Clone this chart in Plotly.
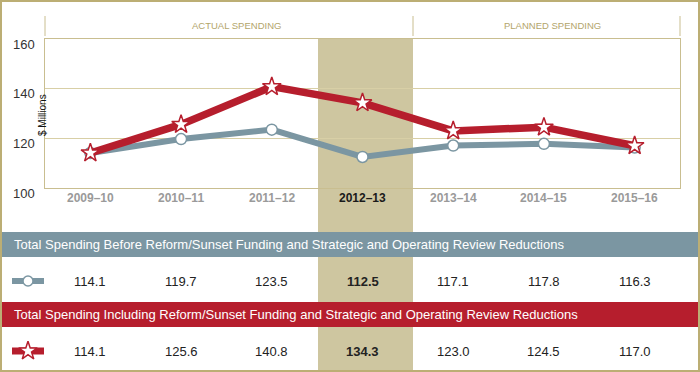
import plotly.graph_objects as go

W, H = 700, 372

categories = ["2009–10", "2010–11", "2011–12", "2012–13", "2013–14", "2014–15", "2015–16"]
before_values = [114.1, 119.7, 123.5, 112.5, 117.1, 117.8, 116.3]
including_values = [114.1, 125.6, 140.8, 134.3, 123.0, 124.5, 117.0]
y_ticks = [100, 120, 140, 160]
highlight_category = "2012–13"
section_labels = ["ACTUAL SPENDING", "PLANNED SPENDING"]
row_titles = [
    "Total Spending Before Reform/Sunset Funding and Strategic and Operating Review Reductions",
    "Total Spending Including Reform/Sunset Funding and Strategic and Operating Review Reductions",
]
y_title = "$ Millions"

BLUE = "#7b96a2"
RED = "#b61e2d"
KHAKI = "#bcae74"
KHAKI_LINE = "#c9be90"
GRID = "#d8cfa6"
SHADE = "#cec6a0"
FONT = "Liberation Sans, Arial, sans-serif"
NARROW = "Liberation Sans Narrow, Liberation Sans, Arial, sans-serif"


def px(x):
    return x / W


def py(y):
    return 1 - y / H


PLOT_L, PLOT_R, PLOT_T, PLOT_B = 45, 680, 39, 188

fig = go.Figure()

# main series
fig.add_trace(go.Scatter(
    x=categories, y=before_values, mode="lines+markers",
    line=dict(color=BLUE, width=6),
    marker=dict(symbol="circle", size=11, color="white", line=dict(color=BLUE, width=1.5)),
    showlegend=False, hoverinfo="skip"))
fig.add_trace(go.Scatter(
    x=categories, y=including_values, mode="lines+markers",
    line=dict(color=RED, width=7.5),
    marker=dict(symbol="star", size=14, color="white", line=dict(color=RED, width=1.5)),
    showlegend=False, hoverinfo="skip"))

# legend glyphs in the table (overlay pixel axes)
row1_y, row2_y = 281, 351
fig.add_trace(go.Scatter(x=[12, 44], y=[row1_y, row1_y], mode="lines", line=dict(color=BLUE, width=6),
                         xaxis="x2", yaxis="y2", showlegend=False, hoverinfo="skip"))
fig.add_trace(go.Scatter(x=[28], y=[row1_y], mode="markers",
                         marker=dict(symbol="circle", size=10, color="white", line=dict(color=BLUE, width=1.5)),
                         xaxis="x2", yaxis="y2", showlegend=False, hoverinfo="skip"))
fig.add_trace(go.Scatter(x=[12, 44], y=[row2_y, row2_y], mode="lines", line=dict(color=RED, width=7),
                         xaxis="x2", yaxis="y2", showlegend=False, hoverinfo="skip"))
fig.add_trace(go.Scatter(x=[28], y=[row2_y], mode="markers",
                         marker=dict(symbol="star", size=14, color="white", line=dict(color=RED, width=1.5)),
                         xaxis="x2", yaxis="y2", showlegend=False, hoverinfo="skip"))

shapes = []
# shaded highlight column (through plot and table)
shapes.append(dict(type="rect", xref="paper", yref="paper", x0=px(318), x1=px(413), y0=0, y1=py(PLOT_T),
                   fillcolor=SHADE, line=dict(width=0), layer="below"))
# table header bars
shapes.append(dict(type="rect", xref="paper", yref="paper", x0=0, x1=1, y0=py(257), y1=py(232),
                   fillcolor=BLUE, line=dict(width=0), layer="below"))
shapes.append(dict(type="rect", xref="paper", yref="paper", x0=0, x1=1, y0=py(327), y1=py(302),
                   fillcolor=RED, line=dict(width=0), layer="below"))
# section divider ticks in header
for xv in (PLOT_L, 413, PLOT_R):
    shapes.append(dict(type="line", xref="paper", yref="paper", x0=px(xv), x1=px(xv), y0=py(36), y1=py(16),
                       line=dict(color=KHAKI_LINE, width=1)))
# outer frame
shapes.append(dict(type="rect", xref="paper", yref="paper", x0=0, x1=1, y0=0, y1=1,
                   line=dict(color=KHAKI, width=4), fillcolor="rgba(0,0,0,0)", layer="above"))

annotations = []
# section labels
for label, cx in zip(section_labels, (236.5, 552.5)):
    annotations.append(dict(text=label, xref="paper", yref="paper", x=px(cx), y=py(26),
                            showarrow=False, xanchor="center", yanchor="middle",
                            font=dict(family=NARROW, size=9.5, color="#b3a56b")))
# y tick labels
for v in y_ticks:
    annotations.append(dict(text=str(v), xref="paper", yref="y", x=px(37), y=v, yshift=-5,
                            showarrow=False, xanchor="right", yanchor="middle",
                            font=dict(family=FONT, size=13, color="#333333")))
# y title
annotations.append(dict(text=y_title, xref="paper", yref="paper", x=px(43), y=py(115), textangle=-90,
                        showarrow=False, xanchor="center", yanchor="middle",
                        font=dict(family=FONT, size=10, color="#111111")))
# category labels
for c in categories:
    hl = c == highlight_category
    annotations.append(dict(text=f"<b>{c}</b>", xref="x", yref="paper", x=c, y=py(198),
                            showarrow=False, xanchor="center", yanchor="middle",
                            font=dict(family=FONT, size=12, color="#1a1a1a" if hl else "#9a9a9a")))
# table header texts
for title, yc in zip(row_titles, (244.5, 314.5)):
    annotations.append(dict(text=title, xref="paper", yref="paper", x=px(12), y=py(yc),
                            showarrow=False, xanchor="left", yanchor="middle",
                            font=dict(family=FONT, size=13, color="white")))
# table values
for vals, yc in ((before_values, row1_y), (including_values, row2_y)):
    for c, v in zip(categories, vals):
        txt = f"{v:.1f}"
        if c == highlight_category:
            txt = f"<b>{txt}</b>"
        annotations.append(dict(text=txt, xref="x", yref="paper", x=c, y=py(yc),
                                showarrow=False, xanchor="center", yanchor="middle",
                                font=dict(family=FONT, size=13, color="#222222")))

fig.update_layout(
    width=W, height=H,
    margin=dict(l=0, r=0, t=0, b=0),
    paper_bgcolor="white", plot_bgcolor="rgba(0,0,0,0)",
    showlegend=False,
    xaxis=dict(domain=[px(PLOT_L), px(PLOT_R)], range=[-0.5, len(categories) - 0.5],
               type="category", showticklabels=False, showgrid=False, zeroline=False,
               showline=True, mirror=True, linecolor=KHAKI_LINE, linewidth=1, ticks=""),
    yaxis=dict(domain=[py(PLOT_B), py(PLOT_T)], range=[y_ticks[0], y_ticks[-1]],
               tickvals=y_ticks, showticklabels=False, showgrid=True, gridcolor=GRID, gridwidth=1,
               zeroline=False, showline=True, mirror=True, linecolor=KHAKI_LINE, linewidth=1, ticks=""),
    xaxis2=dict(domain=[0, 1], range=[0, W], visible=False, fixedrange=True, anchor="y2"),
    yaxis2=dict(domain=[0, 1], range=[H, 0], visible=False, fixedrange=True, anchor="x2"),
    shapes=shapes,
    annotations=annotations,
    font=dict(family=FONT),
)

fig.write_html("out.html", config={"displayModeBar": False},
               post_script="document.body.style.margin='0';")
